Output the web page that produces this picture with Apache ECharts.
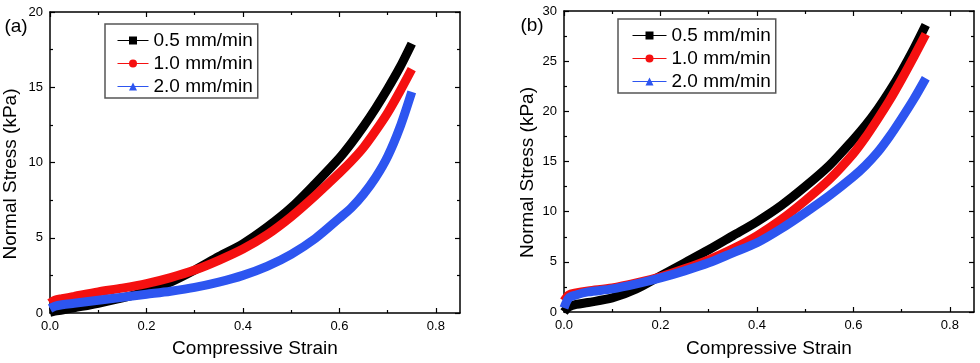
<!DOCTYPE html>
<html>
<head>
<meta charset="utf-8">
<script src="https://cdn.jsdelivr.net/npm/echarts@6/dist/echarts.min.js"></script>
<style>
html,body{margin:0;padding:0;background:#fff;}
#chart{width:980px;height:363px;}
</style>
</head>
<body>
<div id="chart"></div>
<script>
// ---- data ----
const seriesNames = ['0.5 mm/min', '1.0 mm/min', '2.0 mm/min'];
const strain = [0, 0.01, 0.025, 0.05, 0.1, 0.15, 0.2, 0.25, 0.3, 0.35, 0.4, 0.45, 0.5, 0.55, 0.6, 0.625, 0.65, 0.675, 0.7, 0.725, 0.75];

// panel (a)
const stressA05 = [0.05, 0.12, 0.2, 0.35, 0.65, 1.0, 1.45, 2.05, 2.85, 3.75, 4.6, 5.7, 7.0, 8.6, 10.3, 11.3, 12.4, 13.6, 14.9, 16.3, 17.9];
const stressA10 = [0.65, 0.85, 0.95, 1.1, 1.4, 1.65, 1.95, 2.35, 2.85, 3.5, 4.25, 5.2, 6.4, 7.8, 9.3, 10.1, 11.0, 12.1, 13.3, 14.7, 16.2];
const stressA20 = [0.3, 0.45, 0.55, 0.65, 0.85, 1.05, 1.25, 1.45, 1.7, 2.05, 2.5, 3.1, 3.9, 4.95, 6.3, 7.0, 7.9, 9.0, 10.4, 12.3, 14.7];

// panel (b)
const stressB05 = [0, 0.5, 0.75, 0.95, 1.4, 2.3, 3.6, 4.9, 6.2, 7.6, 9.0, 10.6, 12.5, 14.6, 17.2, 18.6, 20.2, 22.0, 24.0, 26.2, 28.6];
const stressB10 = [1.1, 1.7, 1.9, 2.1, 2.4, 2.9, 3.5, 4.3, 5.2, 6.3, 7.6, 9.2, 11.1, 13.2, 15.8, 17.4, 19.2, 21.1, 23.2, 25.4, 27.7];
const stressB20 = [0.4, 1.4, 1.7, 2.0, 2.3, 2.8, 3.4, 4.1, 4.9, 5.9, 6.9, 8.3, 9.9, 11.6, 13.5, 14.6, 15.9, 17.5, 19.3, 21.2, 23.3];

// tick values
const xMajor = [0, 0.2, 0.4, 0.6, 0.8];
const xMinor = [0.1, 0.3, 0.5, 0.7];

const colors = ['#000000', '#f51010', '#2d55f0'];
const symbols = ['rect', 'circle', 'triangle'];
const FONT = '"Liberation Sans", Arial, sans-serif';

function pairs(xs, ys) { return xs.map((x, i) => [x, ys[i]]); }

const grids = [
  { left: 50, top: 12, width: 410, height: 301 },
  { left: 564, top: 11, width: 410, height: 301 }
];

const lineStyleAxis = { color: '#000', width: 1.5 };

function makeXAxes(gi) {
  const base = { gridIndex: gi, type: 'value', min: 0, max: 0.85, interval: 0.2, splitLine: { show: false } };
  return [
    Object.assign({}, base, {
      position: 'bottom',
      axisLine: { show: true, onZero: false, lineStyle: lineStyleAxis },
      axisTick: { show: true, inside: true, length: 5, customValues: xMajor, lineStyle: { color: '#000', width: 1.2 } },
      axisLabel: { show: true, customValues: xMajor, formatter: v => v.toFixed(1), color: '#000', fontSize: 13, fontFamily: FONT, margin: 7 }
    }),
    Object.assign({}, base, {
      position: 'top',
      axisLine: { show: true, onZero: false, lineStyle: lineStyleAxis },
      axisTick: { show: true, inside: true, length: 5, customValues: xMajor, lineStyle: { color: '#000', width: 1.2 } },
      axisLabel: { show: false }
    }),
    Object.assign({}, base, {
      position: 'bottom',
      axisLine: { show: false, onZero: false },
      axisTick: { show: true, inside: true, length: 3, customValues: xMinor, lineStyle: { color: '#000', width: 1.2 } },
      axisLabel: { show: false }
    }),
    Object.assign({}, base, {
      position: 'top',
      axisLine: { show: false, onZero: false },
      axisTick: { show: true, inside: true, length: 3, customValues: xMinor, lineStyle: { color: '#000', width: 1.2 } },
      axisLabel: { show: false }
    })
  ];
}

function makeYAxes(gi, max) {
  const base = {
    gridIndex: gi, type: 'value', min: 0, max: max, interval: 5,
    splitLine: { show: false },
    axisLine: { show: true, onZero: false, lineStyle: lineStyleAxis },
    axisTick: { show: true, inside: true, length: 5, lineStyle: { color: '#000', width: 1.2 } },
    minorTick: { show: true, splitNumber: 2, length: 3, lineStyle: { color: '#000', width: 1.2 } }
  };
  return [
    Object.assign({}, base, {
      position: 'left',
      axisLabel: { show: true, color: '#000', fontSize: 13, fontFamily: FONT, margin: 7 }
    }),
    Object.assign({}, base, {
      position: 'right',
      axisLabel: { show: false }
    })
  ];
}

const xAxes = makeXAxes(0).concat(makeXAxes(1));
const yAxes = makeYAxes(0, 20).concat(makeYAxes(1, 30));

function makeSeries(name, idx, data, xi, yi) {
  return {
    name: name, type: 'line', xAxisIndex: xi, yAxisIndex: yi,
    data: data, smooth: 0.3,
    symbol: symbols[idx], symbolSize: 8, showSymbol: false,
    lineStyle: { color: colors[idx], width: 9 },
    itemStyle: { color: colors[idx] },
    z: 2 + idx, animation: false, silent: true
  };
}

const series = [
  makeSeries(seriesNames[0], 0, pairs(strain, stressA05), 0, 0),
  makeSeries(seriesNames[1], 1, pairs(strain, stressA10), 0, 0),
  makeSeries(seriesNames[2], 2, pairs(strain, stressA20), 0, 0),
  makeSeries(seriesNames[0], 0, pairs(strain, stressB05), 4, 2),
  makeSeries(seriesNames[1], 1, pairs(strain, stressB10), 4, 2),
  makeSeries(seriesNames[2], 2, pairs(strain, stressB20), 4, 2)
];

function makeLegend(left, top, itemWidth, padLeft) {
  return {
    data: seriesNames, orient: 'vertical', left: left, top: top,
    itemWidth: itemWidth, itemHeight: 10, itemGap: 4,
    padding: [7, 5, 2, padLeft],
    borderColor: '#555', borderWidth: 1.5, backgroundColor: '#fff',
    lineStyle: { width: 1 },
    textStyle: { fontSize: 19, fontFamily: FONT, color: '#000' },
    selectedMode: false
  };
}

const textFont = '19px "Liberation Sans", Arial, sans-serif';
function txt(x, y, text, rot) {
  return {
    type: 'text', x: x, y: y, rotation: rot || 0, silent: true,
    style: { text: text, font: textFont, fill: '#000', align: 'center', verticalAlign: 'middle' }
  };
}

const option = {
  backgroundColor: '#fff',
  animation: false,
  grid: grids,
  xAxis: xAxes,
  yAxis: yAxes,
  legend: [makeLegend(105, 24, 31, 12), makeLegend(618, 19, 34, 14)],
  series: series,
  graphic: [
    txt(16, 27, '(a)'),
    txt(532, 26, '(b)'),
    txt(255, 348.5, 'Compressive Strain'),
    txt(769, 348.5, 'Compressive Strain'),
    txt(11, 174, 'Normal Stress (kPa)', Math.PI / 2),
    txt(527.5, 172.5, 'Normal Stress (kPa)', Math.PI / 2)
  ]
};

const chart = echarts.init(document.getElementById('chart'), null, { renderer: 'canvas' });
chart.setOption(option);
</script>
</body>
</html>
